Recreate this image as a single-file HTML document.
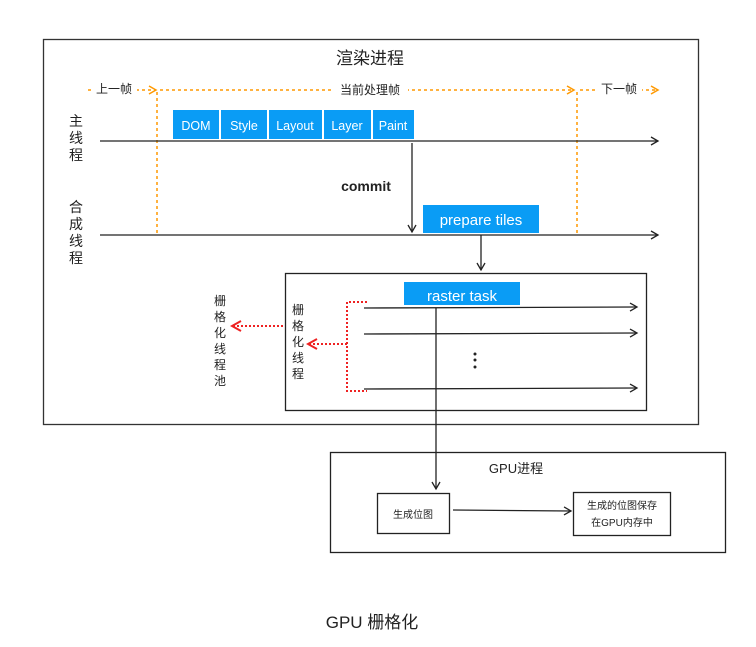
<!DOCTYPE html>
<html><head><meta charset="utf-8"><style>
html,body{margin:0;padding:0;background:#fff}
svg{display:block}
text{font-family:"Liberation Sans","Noto Sans CJK SC",sans-serif;fill:#222}
</style></head><body>
<svg width="756" height="647" viewBox="0 0 756 647">
<defs>
<marker id="a" markerWidth="10" markerHeight="10" refX="8" refY="5" orient="auto" markerUnits="userSpaceOnUse"><path d="M1,1 L8,5 L1,9" fill="none" stroke="#222" stroke-width="1.3"/></marker>
<marker id="o" markerWidth="10" markerHeight="10" refX="8" refY="5" orient="auto" markerUnits="userSpaceOnUse"><path d="M1,1 L8,5 L1,9" fill="none" stroke="#f90" stroke-width="1.5"/></marker>
<marker id="r" markerWidth="12" markerHeight="12" refX="10" refY="6" orient="auto" markerUnits="userSpaceOnUse"><path d="M1,1 L10,6 L1,11" fill="none" stroke="#e22" stroke-width="2"/></marker>
</defs>
<rect x="43.5" y="39.5" width="655" height="385" fill="none" stroke="#333" stroke-width="1.3"/>
<text x="370" y="64" font-size="17" text-anchor="middle">渲染进程</text>
<g stroke="#f90" stroke-width="1.5" stroke-dasharray="3,3" fill="none">
<line x1="88" y1="90" x2="156" y2="90" marker-end="url(#o)"/>
<line x1="160" y1="90" x2="574" y2="90" marker-end="url(#o)"/>
<line x1="580" y1="90" x2="658" y2="90" marker-end="url(#o)"/>
<line x1="157" y1="92" x2="157" y2="235"/>
<line x1="577" y1="92" x2="577" y2="235"/>
</g>
<rect x="92" y="82" width="45" height="14" fill="#fff"/>
<text x="114" y="93" font-size="12" text-anchor="middle">上一帧</text>
<rect x="333" y="82" width="75" height="14" fill="#fff"/>
<text x="370" y="94" font-size="12" text-anchor="middle">当前处理帧</text>
<rect x="597" y="82" width="45" height="14" fill="#fff"/>
<text x="619" y="93" font-size="12" text-anchor="middle">下一帧</text>
<g fill="#0a9cf5">
<rect x="173" y="110" width="46" height="29"/><rect x="221" y="110" width="46" height="29"/>
<rect x="269" y="110" width="53" height="29"/><rect x="324" y="110" width="47" height="29"/>
<rect x="373" y="110" width="41" height="29"/><rect x="423" y="205" width="116" height="28"/>
<rect x="404" y="282" width="116" height="23"/>
</g>
<g font-size="12.5" text-anchor="middle" style="fill:#fff">
<text x="196" y="130" style="fill:#fff">DOM</text><text x="244" y="130" style="fill:#fff">Style</text>
<text x="295" y="130" style="fill:#fff">Layout</text><text x="347" y="130" style="fill:#fff">Layer</text>
<text x="393" y="130" style="fill:#fff">Paint</text>
<text x="481" y="225" font-size="15" style="fill:#fff">prepare tiles</text>
<text x="462" y="301" font-size="15" style="fill:#fff">raster task</text>
</g>
<g stroke="#222" stroke-width="1.3" fill="none">
<line x1="100" y1="141" x2="658" y2="141" marker-end="url(#a)"/>
<line x1="100" y1="235" x2="658" y2="235" marker-end="url(#a)"/>
<line x1="412" y1="143" x2="412" y2="232" marker-end="url(#a)"/>
<line x1="481" y1="235" x2="481" y2="270" marker-end="url(#a)"/>
<rect x="285.5" y="273.5" width="361" height="137"/>
<line x1="364" y1="308" x2="637" y2="307" marker-end="url(#a)"/>
<line x1="364" y1="334" x2="637" y2="333" marker-end="url(#a)"/>
<line x1="364" y1="389" x2="637" y2="388" marker-end="url(#a)"/>
<line x1="436" y1="308" x2="436" y2="489" marker-end="url(#a)"/>
<rect x="330.5" y="452.5" width="395" height="100"/>
<rect x="377.5" y="493.5" width="72" height="40"/>
<rect x="573.5" y="492.5" width="97" height="43"/>
<line x1="453" y1="510" x2="571" y2="511" marker-end="url(#a)"/>
</g>
<g fill="#222"><circle cx="475" cy="354" r="1.5"/><circle cx="475" cy="360" r="1.5"/><circle cx="475" cy="367" r="1.5"/></g>
<g stroke="#e22" stroke-width="2" stroke-dasharray="2,2" fill="none">
<polyline points="367,302 347,302 347,391 367,391"/>
<line x1="347" y1="344" x2="308" y2="344" marker-end="url(#r)"/>
<line x1="283" y1="326" x2="232" y2="326" marker-end="url(#r)"/>
</g>
<text x="366" y="191" font-size="14" font-weight="bold" text-anchor="middle">commit</text>
<g font-size="14" text-anchor="middle">
<text x="76" y="126">主</text><text x="76" y="143">线</text><text x="76" y="160">程</text>
<text x="76" y="212">合</text><text x="76" y="229">成</text><text x="76" y="246">线</text><text x="76" y="263">程</text>
</g>
<g font-size="12" text-anchor="middle">
<text x="298" y="314">栅</text><text x="298" y="330">格</text><text x="298" y="346">化</text><text x="298" y="362">线</text><text x="298" y="378">程</text>
<text x="220" y="305">栅</text><text x="220" y="321">格</text><text x="220" y="337">化</text><text x="220" y="353">线</text><text x="220" y="369">程</text><text x="220" y="385">池</text>
</g>
<text x="516" y="473" font-size="13" text-anchor="middle">GPU进程</text>
<text x="413" y="518" font-size="10" text-anchor="middle">生成位图</text>
<text x="622" y="509" font-size="10" text-anchor="middle">生成的位图保存</text>
<text x="622" y="526" font-size="10" text-anchor="middle">在GPU内存中</text>
<text x="372" y="628" font-size="17" text-anchor="middle">GPU 栅格化</text>
</svg>
</body></html>
